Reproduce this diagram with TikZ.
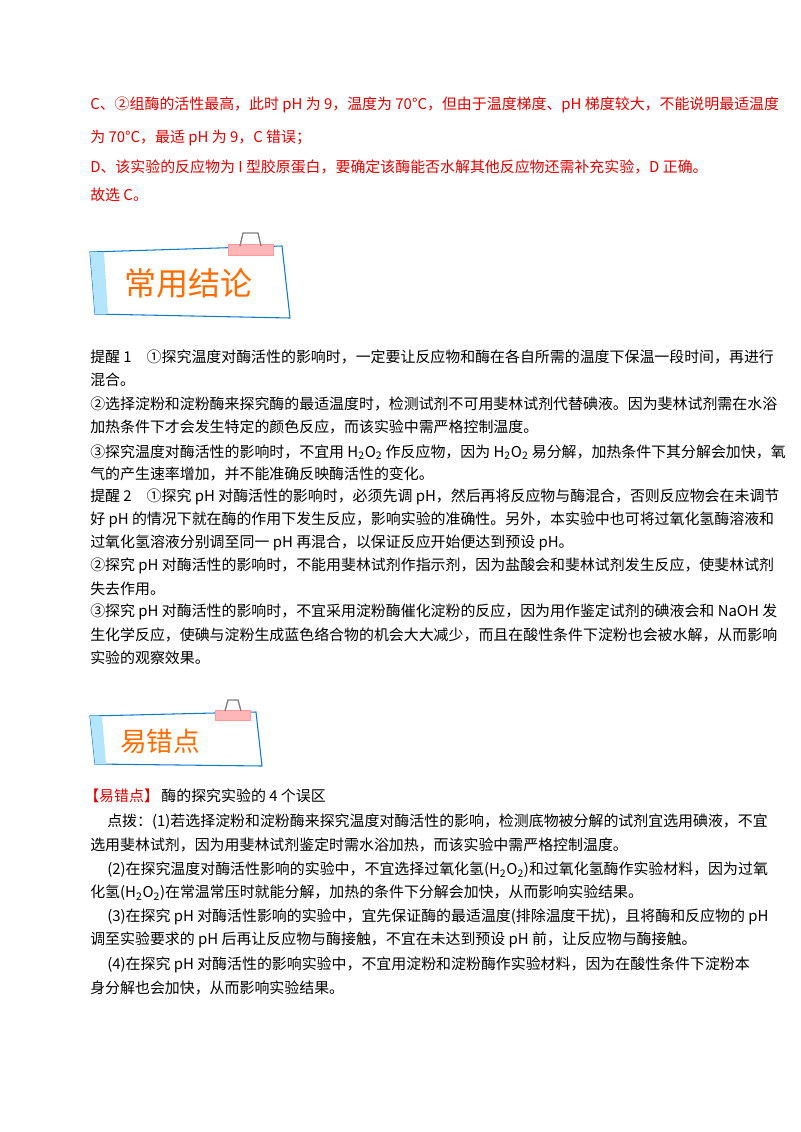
\documentclass[tikz,border=0pt]{standalone}
\usepackage{fontspec}
\newfontfamily\cjk{Noto Sans CJK SC}
\usetikzlibrary{positioning}
\tikzset{
  txt/.style={anchor=west, inner sep=0, font=\cjk\fontsize{11.2}{14}\selectfont},
  red/.style={txt, text=red!90!black},
  banner/.style={draw=cyan!60!blue, line width=0.8pt, fill=white},
  clip/.style={fill=pink!70!red!60, draw=pink!80!red},
  title/.style={font=\cjk\fontsize{24}{28}\selectfont, text=orange!85!red}
}
\newcommand{\hoo}{H\textsubscript{2}O\textsubscript{2}}
\begin{document}
\begin{tikzpicture}[x=0.75pt, y=-0.75pt]
  \useasboundingbox (0,0) rectangle (800,1132);

  % Answer lines
  \node [red] (c1) at (90,105) {C、②组酶的活性最高，此时 pH 为 9，温度为 70°C，但由于温度梯度、pH 梯度较大，不能说明最适温度};
  \node [red] (c2) at (90,138) {为 70°C，最适 pH 为 9，C 错误；};
  \node [red] (d1) at (90,167) {D、该实验的反应物为 I 型胶原蛋白，要确定该酶能否水解其他反应物还需补充实验，D 正确。};
  \node [red] (d2) at (90,195) {故选 C。};

  % First banner
  \draw [banner] (90,252) -- (282,246) -- (290,318) -- (95,314) -- cycle;
  \fill [cyan!30] (90,252) -- (104,252) -- (108,314) -- (95,314) -- cycle;
  \draw [clip] (228,244) rectangle (273,255);
  \draw [gray, line width=1pt] (240,246) -- (243,233) -- (258,233) -- (261,246);
  \node [title] (t1) at (188,283) {常用结论};

  % Conclusions
  \node [txt] (r1) at (90,357) {提醒 1　①探究温度对酶活性的影响时，一定要让反应物和酶在各自所需的温度下保温一段时间，再进行};
  \node [txt] (r2) at (90,380) {混合。};
  \node [txt] (r3) at (90,404) {②选择淀粉和淀粉酶来探究酶的最适温度时，检测试剂不可用斐林试剂代替碘液。因为斐林试剂需在水浴};
  \node [txt] (r4) at (90,427) {加热条件下才会发生特定的颜色反应，而该实验中需严格控制温度。};
  \node [txt] (r5) at (90,452) {③探究温度对酶活性的影响时，不宜用 \hoo{} 作反应物，因为 \hoo{} 易分解，加热条件下其分解会加快，氧};
  \node [txt] (r6) at (90,474) {气的产生速率增加，并不能准确反映酶活性的变化。};
  \node [txt] (r7) at (90,497) {提醒 2　①探究 pH 对酶活性的影响时，必须先调 pH，然后再将反应物与酶混合，否则反应物会在未调节};
  \node [txt] (r8) at (90,520) {好 pH 的情况下就在酶的作用下发生反应，影响实验的准确性。另外，本实验中也可将过氧化氢酶溶液和};
  \node [txt] (r9) at (90,543) {过氧化氢溶液分别调至同一 pH 再混合，以保证反应开始便达到预设 pH。};
  \node [txt] (r10) at (90,566) {②探究 pH 对酶活性的影响时，不能用斐林试剂作指示剂，因为盐酸会和斐林试剂发生反应，使斐林试剂};
  \node [txt] (r11) at (90,589) {失去作用。};
  \node [txt] (r12) at (90,612) {③探究 pH 对酶活性的影响时，不宜采用淀粉酶催化淀粉的反应，因为用作鉴定试剂的碘液会和 NaOH 发};
  \node [txt] (r13) at (90,635) {生化学反应，使碘与淀粉生成蓝色络合物的机会大大减少，而且在酸性条件下淀粉也会被水解，从而影响};
  \node [txt] (r14) at (90,658) {实验的观察效果。};

  % Second banner
  \draw [banner] (90,716) -- (256,712) -- (262,766) -- (95,764) -- cycle;
  \fill [cyan!30] (90,716) -- (102,716) -- (106,764) -- (95,764) -- cycle;
  \draw [clip] (215,710) rectangle (250,720);
  \draw [gray, line width=1pt] (225,711) -- (228,700) -- (238,700) -- (241,711);
  \node [title, font=\cjk\fontsize{20}{24}\selectfont] (t2) at (160,741) {易错点};

  % Mistakes
  \node [txt] (h) at (84,796) {\textcolor{red!90!black}{【易错点】}\,酶的探究实验的 4 个误区};
  \node [txt] (m1) at (107,822) {点拨：(1)若选择淀粉和淀粉酶来探究温度对酶活性的影响，检测底物被分解的试剂宜选用碘液，不宜};
  \node [txt] (m2) at (90,845) {选用斐林试剂，因为用斐林试剂鉴定时需水浴加热，而该实验中需严格控制温度。};
  \node [txt] (m3) at (107,870) {(2)在探究温度对酶活性影响的实验中，不宜选择过氧化氢(\hoo)和过氧化氢酶作实验材料，因为过氧};
  \node [txt] (m4) at (90,893) {化氢(\hoo)在常温常压时就能分解，加热的条件下分解会加快，从而影响实验结果。};
  \node [txt] (m5) at (107,917) {(3)在探究 pH 对酶活性影响的实验中，宜先保证酶的最适温度(排除温度干扰)，且将酶和反应物的 pH};
  \node [txt] (m6) at (90,940) {调至实验要求的 pH 后再让反应物与酶接触，不宜在未达到预设 pH 前，让反应物与酶接触。};
  \node [txt] (m7) at (107,965) {(4)在探究 pH 对酶活性的影响实验中，不宜用淀粉和淀粉酶作实验材料，因为在酸性条件下淀粉本};
  \node [txt] (m8) at (90,988) {身分解也会加快，从而影响实验结果。};
\end{tikzpicture}
\end{document}
